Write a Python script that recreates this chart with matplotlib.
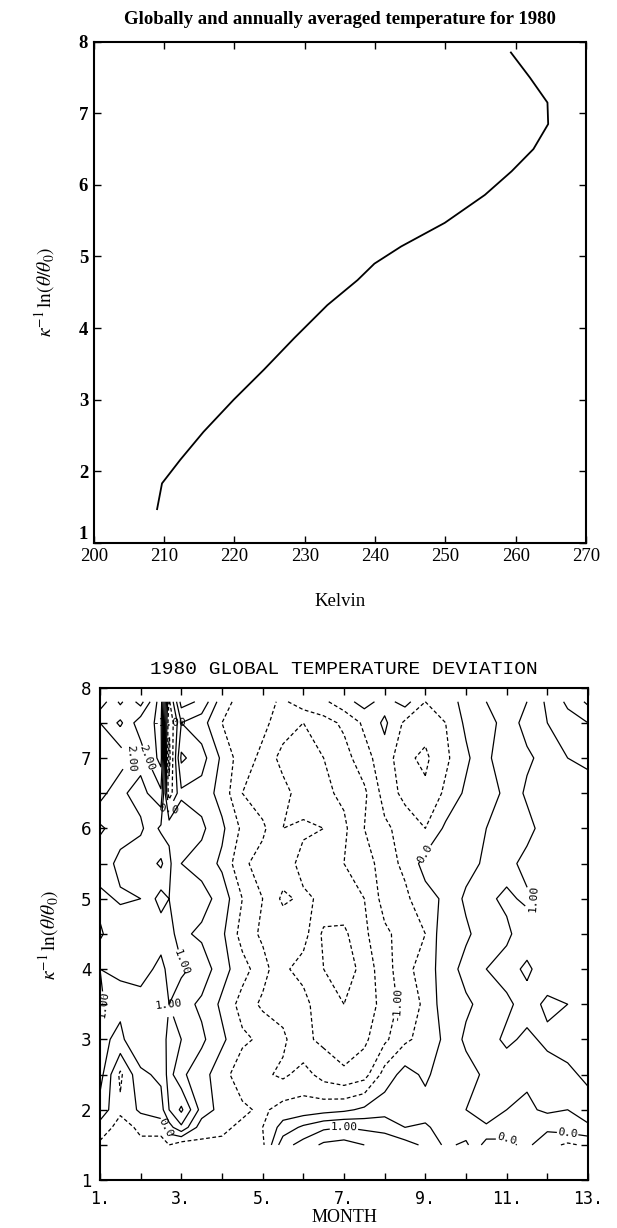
import numpy as np
import matplotlib
matplotlib.use("Agg")
import matplotlib.pyplot as plt

plt.rcParams['mathtext.fontset'] = 'stix'
plt.rcParams['contour.negative_linestyle'] = (0, (3, 2))

# --- top panel: globally / annually averaged temperature profile ---
kelvin = [209.0, 209.7, 212.3, 215.6, 219.9, 224.2, 228.5, 233.2, 237.5, 239.9,
          243.7, 249.9, 255.6, 259.4, 262.5, 264.6, 264.5, 262.0, 259.3]
theta_lev = [1.47, 1.83, 2.16, 2.55, 3.0, 3.42, 3.86, 4.32, 4.67, 4.90,
             5.14, 5.47, 5.86, 6.19, 6.5, 6.85, 7.15, 7.5, 7.85]
kelvin_ticks = [200, 210, 220, 230, 240, 250, 260, 270]

# --- bottom panel: 1980 deviation, month x level ---
months = [1.0, 1.5, 2.0, 2.5, 2.7, 3.0, 3.5, 4.0, 4.5, 5.0, 5.5, 6.0, 6.5,
          7.0, 7.5, 8.0, 8.5, 9.0, 9.5, 10.0, 10.5, 11.0, 11.5, 12.0, 12.5, 13.0]
z_lev = [1.5, 1.75, 2.0, 2.5, 3.0, 3.5, 4.0, 4.5, 5.0, 5.5, 6.0, 6.5, 7.0, 7.5, 7.8]
# one row per month, values from z=1.5 (left) to z=7.8 (right)
dev_by_month = [
    [-0.6, -0.2, 0.3, 0.7, 0.6, 1.1, 1.0, 1.6, 1.3, 1.9, 1.4, 2.2, 2.4, 2.0, 1.2],
    [-0.9, -0.7, -0.4, -0.6, 0.4, 0.6, 1.2, 1.0, 1.6, 1.3, 1.8, 1.6, 2.3, 1.4, 2.1],
    [-0.6, -0.4, 0.1, 0.4, 0.9, 0.7, 1.3, 1.1, 1.5, 1.1, 1.6, 1.3, 1.7, 2.3, 1.3],
    [-0.7, -0.3, 0.3, 0.6, 0.5, 1.0, 0.8, 1.3, 0.8, 1.6, 0.9, 1.9, 2.7, 2.6, 2.8],
    [-0.5, 0.3, 1.0, 1.2, 1.3, 1.0, 1.2, 1.3, 1.0, 1.1, 0.9, -0.8, -1.2, -1.0, -0.6],
    [-0.8, 0.9, 1.6, 0.6, 1.0, 0.7, 1.1, 0.6, 0.9, 0.5, 0.9, 0.4, 1.1, 0.5, 1.2],
    [-0.6, -0.3, 0.3, 0.2, 0.6, 0.4, 0.8, 0.4, 0.7, 0.3, 0.6, 0.3, 0.7, 0.2, 0.9],
    [-0.6, -0.4, -0.2, -0.3, 0.1, -0.1, 0.2, 0.1, 0.3, -0.1, 0.1, -0.2, -0.1, -0.5, -0.3],
    [-0.8, -0.6, -0.4, -0.8, -0.4, -0.7, -0.3, -0.7, -0.5, -0.9, -0.6, -1.0, -0.8, -0.6, -0.7],
    [-0.6, -0.5, -0.6, -0.9, -0.6, -1.1, -0.8, -1.1, -1.0, -1.2, -0.9, -1.3, -1.1, -0.9, -0.8],
    [0.8, 0.2, -0.3, -1.1, -0.9, -1.2, -1.4, -1.1, -1.6, -1.2, -1.5, -1.3, -1.7, -1.2, -1.1],
    [1.2, 0.6, -0.3, -0.8, -1.4, -1.3, -1.7, -1.3, -1.4, -1.7, -1.4, -1.8, -1.6, -1.5, -0.7],
    [1.6, 0.9, -0.2, -1.2, -1.6, -1.9, -2.0, -2.1, -1.6, -1.8, -1.5, -1.6, -1.5, -1.2, -0.6],
    [1.7, 1.0, -0.1, -1.4, -1.8, -2.0, -2.3, -2.1, -1.7, -1.5, -1.6, -1.4, -1.2, -0.9, -0.2],
    [1.5, 0.9, 0.1, -1.2, -1.6, -1.8, -1.8, -1.6, -1.5, -1.3, -1.0, -1.1, -0.7, -0.4, 0.2],
    [1.4, 0.8, 0.3, -0.3, -1.1, -1.3, -1.2, -1.1, -0.8, -0.7, -0.6, -0.3, -0.2, 0.1, -0.2],
    [1.2, 0.5, 0.3, 0.2, -0.6, -0.8, -0.7, -0.8, -0.6, -0.4, -0.3, -0.6, -0.9, -0.6, 0.2],
    [0.9, 0.6, 0.2, -0.1, -0.3, -0.4, -0.2, -0.5, -0.2, 0.2, -0.5, -0.9, -1.1, -0.8, -0.5],
    [0.4, 0.2, 0.1, 0.3, 0.1, 0.3, 0.2, 0.4, 0.1, 0.3, 0.1, -0.4, -0.6, -0.5, -0.3],
    [0.6, 0.2, 0.5, 0.3, 0.6, 0.4, 0.7, 0.4, 0.6, 0.3, 0.5, 0.1, -0.1, 0.1, 0.2],
    [-0.2, 0.4, 0.9, 0.6, 0.8, 0.7, 1.0, 0.8, 0.9, 0.6, 0.5, 0.3, 0.4, 0.3, 0.5],
    [-0.1, 0.2, 0.5, 0.7, 1.1, 0.9, 1.2, 0.9, 1.1, 0.8, 0.7, 0.6, 0.8, 0.7, 0.9],
    [0.1, 0.5, 0.4, 0.6, 0.9, 1.2, 0.9, 1.3, 0.9, 1.2, 0.8, 1.1, 0.9, 1.2, 1.0],
    [-0.3, 0.1, 0.6, 0.8, 1.1, 0.9, 1.3, 1.0, 1.2, 1.0, 1.3, 1.1, 1.2, 1.5, 1.6],
    [-0.6, 0.3, 0.5, 0.9, 1.2, 1.0, 1.2, 1.1, 1.3, 1.1, 1.4, 1.2, 1.5, 1.8, 2.1],
    [-0.4, 0.4, 0.8, 1.1, 1.3, 1.2, 1.4, 1.1, 1.4, 1.2, 1.5, 1.3, 1.6, 2.0, 2.6],
]
month_ticks = [1, 2, 3, 4, 5, 6, 7, 8, 9, 10, 11, 12, 13]
month_labels = ['1.', '', '3.', '', '5.', '', '7.', '', '9.', '', '11.', '', '13.']
clabel_fmt = {-1.0: '-1.00', 0.0: '0.0', 1.0: '1.00', 2.0: '2.00'}

serif = 'Liberation Serif'
ylab = r'$\kappa^{-1}\,\ln(\theta/\theta_0)$'

fig = plt.figure(figsize=(6.17, 12.28), dpi=100)

# top panel
ax1 = fig.add_axes([0.152, 0.558, 0.798, 0.408])
ax1.plot(kelvin, theta_lev, color='k', lw=1.3)
ax1.set_xlim(200, 270)
ax1.set_ylim(1, 8)
ax1.set_xticks(kelvin_ticks)
ax1.set_yticks(range(1, 9))
ax1.tick_params(direction='in', top=True, right=True, length=5, width=1, pad=4,
                labelsize=13.5)
for lab in ax1.get_xticklabels():
    lab.set_fontfamily(serif)
for lab in ax1.get_yticklabels():
    lab.set_fontfamily(serif)
    lab.set_fontweight('bold')
# the "1" sits just above the axis line, clear of "200"
ax1.get_yticklabels()[0].set_verticalalignment('bottom')
for sp in ax1.spines.values():
    sp.set_linewidth(1.5)
fig.text(0.551, 0.984, 'Globally and annually averaged temperature for 1980',
         ha='center', va='center', family=serif, weight='bold', fontsize=13.5)
fig.text(0.551, 0.510, 'Kelvin', ha='center', va='center', family=serif, fontsize=13.5)
fig.text(0.073, 0.762, ylab, rotation=90, ha='center', va='center', fontsize=14)

# bottom panel
ax2 = fig.add_axes([0.162, 0.039, 0.791, 0.401])
dev = np.array(dev_by_month).T
cs = ax2.contour(months, z_lev, dev, levels=np.arange(-2.5, 3.01, 0.5),
                 colors='k', linewidths=0.9)
texts = ax2.clabel(cs, levels=[-1.0, 0.0, 1.0, 2.0], fmt=clabel_fmt, fontsize=8,
                   inline=True, inline_spacing=2)
for t in texts:
    t.set_fontfamily('DejaVu Sans Mono')
ax2.set_xlim(1, 13)
ax2.set_ylim(1, 8)
ax2.set_xticks(month_ticks)
ax2.set_xticklabels(month_labels, family='DejaVu Sans Mono', fontsize=11)
ax2.set_yticks(range(1, 9))
ax2.set_yticks(np.arange(1.5, 8, 1.0), minor=True)
ax2.tick_params(which='both', direction='in', top=True, right=True, length=5,
                width=1, labelsize=12)
ax2.tick_params(axis='y', pad=6)
ax2.tick_params(axis='x', pad=7)
for sp in ax2.spines.values():
    sp.set_linewidth(1.5)
fig.text(0.558, 0.4544, '1980 GLOBAL TEMPERATURE DEVIATION', ha='center', va='center',
         family='Liberation Mono', fontsize=14)
fig.text(0.558, 0.0085, 'MONTH', ha='center', va='center', family=serif, fontsize=13)
fig.text(0.078, 0.239, ylab, rotation=90, ha='center', va='center', fontsize=14)

fig.savefig('out.png', dpi=100)
